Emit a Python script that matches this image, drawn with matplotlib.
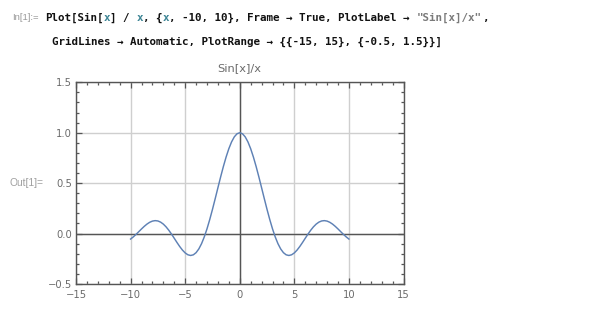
import numpy as np
import matplotlib
matplotlib.use("Agg")
import matplotlib.pyplot as plt
from matplotlib.ticker import MultipleLocator

# ---- data (values of the plotted curve) ----
x_samples = np.linspace(-10, 10, 81)
y_values = [
    -0.05440, -0.03273, -0.00791, 0.01880, 0.04579, 0.07140, 0.09394, 0.11183,
    0.12367, 0.12834, 0.12507, 0.11353, 0.09386, 0.06667, 0.03310, -0.00531,
    -0.04657, -0.08840, -0.12828, -0.16361, -0.19178, -0.21038, -0.21723, -0.21059,
    -0.18920, -0.15242, -0.10022, -0.03329, 0.04704, 0.13879, 0.23939, 0.34581,
    0.45465, 0.56228, 0.66500, 0.75919, 0.84147, 0.90885, 0.95885, 0.98962,
    1.00000,
    0.98962, 0.95885, 0.90885, 0.84147, 0.75919, 0.66500, 0.56228, 0.45465,
    0.34581, 0.23939, 0.13879, 0.04704, -0.03329, -0.10022, -0.15242, -0.18920,
    -0.21059, -0.21723, -0.21038, -0.19178, -0.16361, -0.12828, -0.08840, -0.04657,
    -0.00531, 0.03310, 0.06667, 0.09386, 0.11353, 0.12507, 0.12834, 0.12367,
    0.11183, 0.09394, 0.07140, 0.04579, 0.01880, -0.00791, -0.03273, -0.05440,
]
x_range = (-15, 15)
y_range = (-0.5, 1.5)
x_ticks = [-15, -10, -5, 0, 5, 10, 15]
y_ticks = [-0.5, 0.0, 0.5, 1.0, 1.5]
plot_title = "Sin[x]/x"

code_line1 = [
    ("Plot[Sin[", "k"), ("x", "v"), ("] / ", "k"), ("x", "v"), (", {", "k"),
    ("x", "v"), (", -10, 10}, Frame \u2192 True, PlotLabel \u2192 ", "k"),
    ("\"Sin[x]/x\"", "s"), (",", "k"),
]
code_line2 = [
    ("GridLines \u2192 Automatic, PlotRange \u2192 {{-15, 15}, {-0.5, 1.5}}]", "k"),
]
in_label = "In[1]:="
out_label = "Out[1]="

# ---- figure ----
W, H = 607, 312
fig = plt.figure(figsize=(W / 100, H / 100), dpi=100)
fig.patch.set_facecolor("white")

def fx(px):
    return px / W

def fy(py):
    return 1 - py / H

ax = fig.add_axes([fx(76), fy(284), (403.5 - 76) / W, (284 - 82.3) / H])

frame_col = "#555555"
label_col = "#6b6b6b"

ax.set_xlim(*x_range)
ax.set_ylim(*y_range)
ax.set_xticks(x_ticks)
ax.set_yticks(y_ticks)
ax.set_xticklabels([f"{t:d}".replace("-", "\u2212") for t in x_ticks])
ax.set_yticklabels([f"{t:.1f}".replace("-", "\u2212") for t in y_ticks])
ax.xaxis.set_minor_locator(MultipleLocator(1))
ax.yaxis.set_minor_locator(MultipleLocator(0.1))

for s in ax.spines.values():
    s.set_color(frame_col)
    s.set_linewidth(1.0)

ax.tick_params(which="both", direction="in", top=True, right=True,
               color=frame_col, width=0.9)
ax.tick_params(which="major", length=4.5)
ax.tick_params(which="minor", length=2.5)
ax.tick_params(axis="x", which="major", pad=4.6, labelsize=7.2,
               labelcolor=label_col)
ax.tick_params(axis="y", which="major", pad=3.0, labelsize=7.2,
               labelcolor=label_col)

ax.grid(True, which="major", color="#cfcfcf", linewidth=1.0, zorder=0)
ax.set_axisbelow(True)
ax.axhline(0, color="#555555", linewidth=1.0, zorder=1)
ax.axvline(0, color="#555555", linewidth=1.0, zorder=1)

ax.plot(x_samples, y_values, color="#5E81B5", linewidth=1.05, zorder=3,
        solid_joinstyle="round")

ax.set_title(plot_title, fontsize=8.2, color=label_col, pad=8.0)

# ---- notebook texts ----
mono = ["DejaVu Sans Mono", "DejaVu Sans"]
fs = 7.8
adv = 0.60205 * fs * 100 / 72  # px per char
colors = {"k": "#111111", "v": "#3d8595", "s": "#7a7a7a"}

def draw_code(segments, x0, baseline):
    n = 0
    for txt, c in segments:
        fig.text(fx(x0 + n * adv), fy(baseline), txt, family=mono,
                 fontsize=fs, fontweight="bold", color=colors[c],
                 va="baseline", ha="left")
        n += len(txt)

draw_code(code_line1, 45, 20.7)
draw_code(code_line2, 51.5, 45.0)

fig.text(fx(12), fy(20.5), in_label, family=["Liberation Sans", "DejaVu Sans"],
         fontsize=6.8, color="#999999", va="baseline", ha="left")
fig.text(fx(9), fy(186.5), out_label, family=["Liberation Sans", "DejaVu Sans"],
         fontsize=7.4, color="#a0a0a0", va="baseline", ha="left")

fig.savefig("out.png", dpi=100, facecolor="white")
